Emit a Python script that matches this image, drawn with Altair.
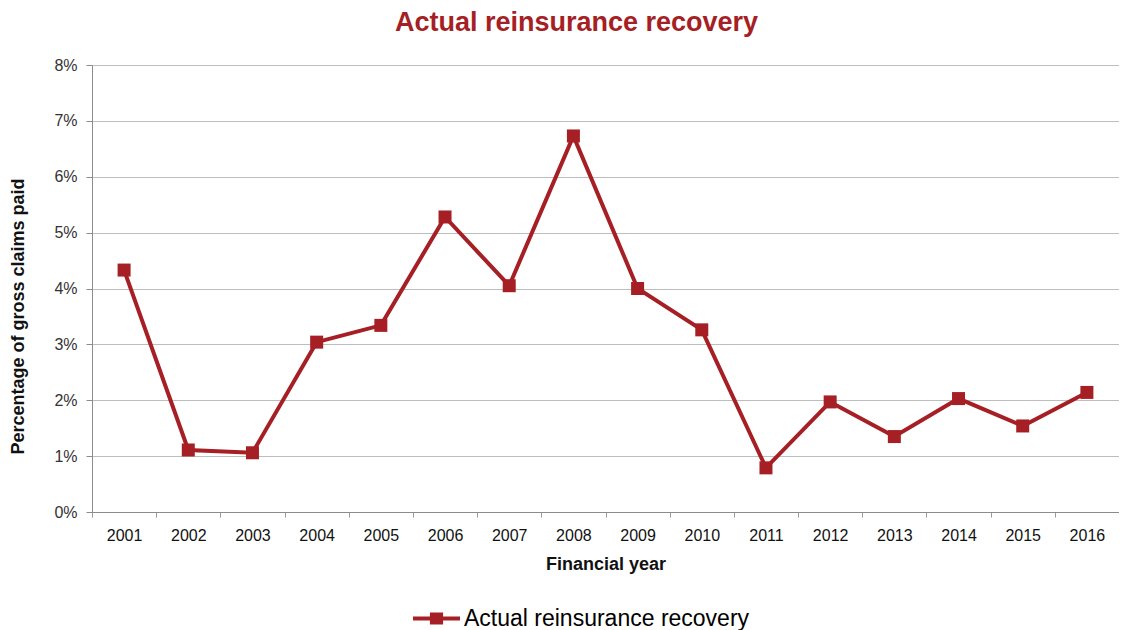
import altair as alt
import pandas as pd

years = ["2001", "2002", "2003", "2004", "2005", "2006", "2007", "2008",
         "2009", "2010", "2011", "2012", "2013", "2014", "2015", "2016"]
recovery_pct = [4.33, 1.11, 1.06, 3.04, 3.34, 5.28, 4.05, 6.73,
                4.00, 3.26, 0.79, 1.97, 1.35, 2.03, 1.54, 2.14]
y_tick_pct = [0, 1, 2, 3, 4, 5, 6, 7, 8]
series_name = "Actual reinsurance recovery"

RED = "#A51F24"
FONT = "Liberation Sans"
W, H = 1027, 447
STEP = W / len(years)

df = pd.DataFrame({
    "year": years,
    "pct": [v / 100 for v in recovery_pct],
    "series": [series_name] * len(years),
})

LEGEND_PATH = ("M-1,-0.085L1,-0.085L1,0.085L-1,0.085Z "
               "M-0.28,-0.26L0.28,-0.26L0.28,0.26L-0.28,0.26Z")

x_enc = alt.X(
    "year:O",
    sort=years,
    bandPosition=0.5,
    scale=alt.Scale(type="band", paddingInner=0, paddingOuter=0),
    axis=alt.Axis(
        title="Financial  year", tickOffset=-STEP / 2, labelOffset=STEP / 2,
        labelAngle=0, grid=False, tickSize=5, tickColor="#9a9a9a",
        domainColor="#8c8c8c", labelFontSize=16, labelColor="#111111",
        labelPadding=10, titleFontSize=18, titleFontWeight="bold",
        titleColor="#111111", titlePadding=12,
    ),
)
y_enc = alt.Y(
    "pct:Q",
    scale=alt.Scale(domain=[0, 0.08]),
    axis=alt.Axis(
        values=[t / 100 for t in y_tick_pct], format=".0%", grid=True,
        gridColor="#bdbdbd", gridWidth=1, tickSize=6, tickColor="#8c8c8c",
        domainColor="#8c8c8c", labelFontSize=16, labelColor="#333333",
        labelPadding=9, title="Percentage of gross claims paid",
        titleFontSize=18, titleFontWeight="bold", titleColor="#111111",
        titlePadding=26, titleY=251,
    ),
)

line = alt.Chart(df).mark_line(strokeWidth=4).encode(
    x=x_enc,
    y=y_enc,
    color=alt.Color(
        "series:N",
        scale=alt.Scale(domain=[series_name], range=[RED]),
        legend=alt.Legend(
            title=None, orient="none", legendX=321, legendY=530,
            symbolType=LEGEND_PATH, symbolSize=2209, symbolStrokeWidth=0,
            symbolFillColor=RED, symbolStrokeColor=RED, symbolOpacity=1,
            labelFontSize=23, labelColor="#000000",
            labelFont=FONT, labelLimit=0, labelOffset=4,
        ),
    ),
)

points = alt.Chart(df).mark_point(
    shape="square", filled=True, size=169, opacity=1, color=RED
).encode(x=x_enc, y=y_enc)

chart = alt.layer(line, points).properties(
    width=W,
    height=H,
    padding={"left": 84, "top": 57, "right": 0, "bottom": 118},
    autosize=alt.AutoSizeParams(type="none"),
    title=alt.Title(
        "Actual reinsurance recovery", fontSize=27, font=FONT,
        fontWeight="bold", color=RED, anchor="middle", frame="group",
        dx=-29, offset=20,
    ),
).configure_view(stroke=None).configure_axis(
    labelFont=FONT, titleFont=FONT
).configure_legend(labelFont=FONT)

chart.save("out.html", embed_options={"renderer": "svg", "actions": False})
